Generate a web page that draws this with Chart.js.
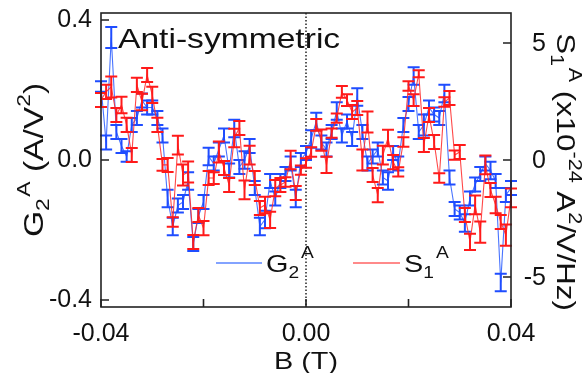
<!DOCTYPE html>
<html>
<head>
<meta charset="utf-8">
<script src="https://cdn.jsdelivr.net/npm/chart.js@4.4.0/dist/chart.umd.min.js"></script>
<style>
  html, body { margin: 0; padding: 0; background: #fff; }
  #wrap { width: 586px; height: 373px; }
</style>
</head>
<body>
<div id="wrap"><canvas id="noiseChart" width="586" height="373"></canvas></div>
<script>
// ── field sweep (T) ──────────────────────────────────────────────
const fieldT = [
  -0.040, -0.039, -0.038, -0.037, -0.036, -0.035, -0.034, -0.033, -0.032, -0.031,
  -0.030, -0.029, -0.028, -0.027, -0.026, -0.025, -0.024, -0.023, -0.022, -0.021,
  -0.020, -0.019, -0.018, -0.017, -0.016, -0.015, -0.014, -0.013, -0.012, -0.011,
  -0.010, -0.009, -0.008, -0.007, -0.006, -0.005, -0.004, -0.003, -0.002, -0.001,
   0.000,
   0.001,  0.002,  0.003,  0.004,  0.005,  0.006,  0.007,  0.008,  0.009,  0.010,
   0.011,  0.012,  0.013,  0.014,  0.015,  0.016,  0.017,  0.018,  0.019,  0.020,
   0.021,  0.022,  0.023,  0.024,  0.025,  0.026,  0.027,  0.028,  0.029,  0.030,
   0.031,  0.032,  0.033,  0.034,  0.035,  0.036,  0.037,  0.038,  0.039,  0.040
];

// anti-symmetric second-order conductance G2^A (A/V^2)
const g2Anti = [
   0.21,  0.05,  0.35,  0.08,  0.04,  0.01,  0.10,  0.12,  0.17,  0.15,
   0.15,  0.12,  0.07, -0.11, -0.19, -0.13, -0.12, -0.06, -0.24, -0.16,
  -0.12,  0.01, -0.01,  0.03,  0.07, -0.03,  0.09, -0.02,  0.00,  0.04,
  -0.08, -0.19, -0.17, -0.06, -0.11, -0.06, -0.04, -0.01, -0.11,  0.00,
   0.02,
   0.06,  0.11,  0.05,  0.03,  0.08,  0.14,  0.07,  0.11,  0.06,  0.18,
   0.08, -0.01,  0.01,  0.03, -0.05, -0.06,  0.02, -0.01,  0.10,  0.16,
   0.24,  0.08,  0.10,  0.15,  0.13,  0.12,  0.19, -0.05, -0.14, -0.15,
  -0.18, -0.11, -0.07, -0.04, -0.01, -0.03, -0.06, -0.35, -0.10, -0.08
];
const g2Err = [
  0.015, 0.020, 0.030, 0.020, 0.020, 0.015, 0.020, 0.020, 0.020, 0.020,
  0.020, 0.020, 0.020, 0.025, 0.025, 0.020, 0.020, 0.025, 0.020, 0.020,
  0.020, 0.025, 0.020, 0.020, 0.020, 0.020, 0.025, 0.020, 0.025, 0.020,
  0.020, 0.025, 0.025, 0.020, 0.020, 0.020, 0.020, 0.020, 0.025, 0.020,
  0.020,
  0.025, 0.025, 0.020, 0.020, 0.020, 0.025, 0.020, 0.020, 0.020, 0.025,
  0.020, 0.020, 0.020, 0.020, 0.020, 0.025, 0.020, 0.020, 0.020, 0.020,
  0.025, 0.020, 0.030, 0.020, 0.020, 0.020, 0.025, 0.020, 0.020, 0.020,
  0.025, 0.020, 0.020, 0.020, 0.020, 0.025, 0.020, 0.025, 0.020, 0.020
];

// anti-symmetric noise S1^A (x10^-24 A^2/V/Hz)
const s1Anti = [
   2.56,  2.91,  3.12,  1.92,  2.35,  1.50,  0.21,  3.21,  2.48,  3.63,
   2.78,  1.50, -0.21, -0.21, -2.65,  0.64, -0.64, -0.51, -3.50, -2.35,
  -2.91, -0.77, -0.77,  0.34, -0.34, -1.07,  0.94,  1.37, -1.28,  0.21,
  -0.77, -2.05, -1.92, -2.56, -1.20, -1.07, -0.94,  0.00, -1.41, -0.43,
  -0.13,
   0.34,  1.50,  0.85, -0.21,  1.15,  1.79,  2.91,  2.56,  2.05,  2.22,
   0.00,  1.62, -0.64, -1.50,  0.21,  0.94, -0.09, -0.51,  0.77,  3.16,
   2.56,  3.68,  0.64,  1.92,  0.77, -0.77,  2.48,  2.65,  0.21,  0.34,
  -2.35, -3.50, -1.92, -3.08, -0.21, -1.28, -1.92, -2.65, -3.21, -1.62
];
const s1Err = [
  0.30, 0.30, 0.45, 0.30, 0.35, 0.30, 0.30, 0.30, 0.35, 0.30,
  0.35, 0.30, 0.25, 0.30, 0.20, 0.40, 0.45, 0.45, 0.30, 0.30,
  0.30, 0.30, 0.25, 0.45, 0.30, 0.30, 0.40, 0.30, 0.40, 0.40,
  0.30, 0.30, 0.35, 0.35, 0.35, 0.30, 0.20, 0.40, 0.30, 0.20,
  0.20,
  0.20, 0.25, 0.45, 0.35, 0.20, 0.20, 0.25, 0.25, 0.30, 0.30,
  0.45, 0.45, 0.30, 0.30, 0.40, 0.35, 0.30, 0.20, 0.20, 0.20,
  0.25, 0.15, 0.30, 0.30, 0.30, 0.20, 0.20, 0.30, 0.20, 0.30,
  0.30, 0.35, 0.40, 0.45, 0.40, 0.30, 0.35, 0.30, 0.45, 0.40
];

// ── axis ticks ───────────────────────────────────────────────────
const xTicks = [-0.04, -0.02, 0, 0.02, 0.04];
const xTickText = ["-0.04", "", "0.00", "", "0.04"];
const gTicks = [-0.4, 0, 0.4];
const gTickText = ["-0.4", "0.0", "0.4"];
const sTicks = [-5, 0, 5];
const sTickText = ["-5", "0", "5"];

const FONT = "'Liberation Sans', Arial, sans-serif";
const BLUE = "#1f4dff";
const RED = "#ff1a1a";
const CAP = 6;          // half width of the error bar caps
const TICK_LEN = 8;     // inward tick marks
const STRETCH = 1.2;    // labels in this figure are set a little wide

// draw a run of text pieces [text, size, rise] one after the other
function richText(ctx, parts, x, y, rot, align) {
  ctx.save();
  ctx.translate(x, y);
  ctx.rotate(rot);
  ctx.scale(STRETCH, 1);
  ctx.fillStyle = "#111";
  ctx.textBaseline = "alphabetic";
  ctx.textAlign = "left";
  let total = 0;
  parts.forEach(([t, s]) => { ctx.font = `${s}px ${FONT}`; total += ctx.measureText(t).width; });
  let cx = align === "center" ? -total / 2 : align === "right" ? -total : 0;
  parts.forEach(([t, s, rise]) => {
    ctx.font = `${s}px ${FONT}`;
    ctx.fillText(t, cx, -rise);
    cx += ctx.measureText(t).width;
  });
  ctx.restore();
}

const errorBars = {
  id: "errorBars",
  afterDatasetDraw(chart, args) {
    const ds = chart.data.datasets[args.index];
    if (!ds.errors) return;
    const xs = chart.scales.x;
    const ys = chart.scales[ds.yAxisID];
    const ctx = chart.ctx;
    ctx.save();
    ctx.strokeStyle = ds.barColor;
    ctx.lineWidth = 2;
    ds.data.forEach((p, i) => {
      const px = xs.getPixelForValue(p.x);
      const top = ys.getPixelForValue(p.y + ds.errors[i]);
      const bot = ys.getPixelForValue(p.y - ds.errors[i]);
      ctx.beginPath();
      ctx.moveTo(px, top); ctx.lineTo(px, bot);
      ctx.moveTo(px - CAP, top); ctx.lineTo(px + CAP, top);
      ctx.moveTo(px - CAP, bot); ctx.lineTo(px + CAP, bot);
      ctx.stroke();
    });
    ctx.restore();
  }
};

const frame = {
  id: "frame",
  beforeDatasetsDraw(chart) {
    // dotted line at zero field
    const { ctx, chartArea: a, scales } = chart;
    const x0 = scales.x.getPixelForValue(0);
    ctx.save();
    ctx.strokeStyle = "#222";
    ctx.lineWidth = 1.5;
    ctx.setLineDash([1.5, 2]);
    ctx.beginPath();
    ctx.moveTo(x0, a.top);
    ctx.lineTo(x0, a.bottom);
    ctx.stroke();
    ctx.restore();
  },
  afterDatasetsDraw(chart) {
    const { ctx, chartArea: a, scales } = chart;
    ctx.save();
    ctx.strokeStyle = "#222";
    ctx.lineWidth = 1.6;
    ctx.strokeRect(a.left, a.top, a.right - a.left, a.bottom - a.top);
    ctx.beginPath();
    scales.x.ticks.forEach(t => {
      const px = scales.x.getPixelForValue(t.value);
      ctx.moveTo(px, a.bottom); ctx.lineTo(px, a.bottom - TICK_LEN);
    });
    scales.yG.ticks.forEach(t => {
      const py = scales.yG.getPixelForValue(t.value);
      ctx.moveTo(a.left, py); ctx.lineTo(a.left + TICK_LEN, py);
    });
    scales.yS.ticks.forEach(t => {
      const py = scales.yS.getPixelForValue(t.value);
      ctx.moveTo(a.right, py); ctx.lineTo(a.right - TICK_LEN, py);
    });
    ctx.stroke();
    ctx.restore();

    // right-hand labels, right aligned as in the original figure
    ctx.save();
    ctx.fillStyle = "#111";
    ctx.font = `25px ${FONT}`;
    ctx.textAlign = "right";
    ctx.textBaseline = "middle";
    scales.yS.ticks.forEach((t, i) => {
      ctx.fillText(sTickText[i], 546, scales.yS.getPixelForValue(t.value) + 1);
    });
    ctx.restore();
  },
  afterDraw(chart) {
    const { ctx, chartArea: a } = chart;
    const midY = (a.top + a.bottom) / 2;

    richText(ctx, [["Anti-symmetric", 28, 0]], 118, 48, 0, "left");

    // axis titles
    richText(ctx, [["B (T)", 24, 0]], (a.left + a.right) / 2, 369, 0, "center");
    richText(ctx, [["G", 28, 0], ["2", 19, -6], [" ", 5, 0], ["A", 19, 13], [" (A/V", 28, 0], ["2", 19, 13], [")", 28, 0]],
      43, midY, -Math.PI / 2, "center");
    richText(ctx, [["S", 26, 0], ["1", 18, -6], [" ", 5, 0], ["A", 18, 12], [" (x10", 26, 0], ["-24", 18, 12],
      [" A", 26, 0], ["2", 18, 12], ["/V/Hz)", 26, 0]],
      557, 172, Math.PI / 2, "center");

    // legend
    ctx.save();
    ctx.lineWidth = 1.5;
    ctx.strokeStyle = "rgba(60,110,255,0.85)";
    ctx.beginPath(); ctx.moveTo(216, 263); ctx.lineTo(262, 263); ctx.stroke();
    ctx.strokeStyle = "rgba(255,70,70,0.85)";
    ctx.beginPath(); ctx.moveTo(353, 263); ctx.lineTo(400, 263); ctx.stroke();
    ctx.restore();
    richText(ctx, [["G", 24, 0], ["2", 16, -6], [" ", 6, 0], ["A", 16, 14]], 266, 272, 0, "left");
    richText(ctx, [["S", 24, 0], ["1", 16, -6], [" ", 6, 0], ["A", 16, 14]], 404, 272, 0, "left");
  }
};

new Chart(document.getElementById("noiseChart"), {
  type: "line",
  data: {
    datasets: [
      {
        label: "S1A",
        data: fieldT.map((b, i) => ({ x: b, y: s1Anti[i] })),
        errors: s1Err,
        barColor: RED,
        yAxisID: "yS",
        borderColor: "rgba(255,40,40,0.85)",
        borderWidth: 1.1,
        pointRadius: 0,
        tension: 0
      },
      {
        label: "G2A",
        data: fieldT.map((b, i) => ({ x: b, y: g2Anti[i] })),
        errors: g2Err,
        barColor: BLUE,
        yAxisID: "yG",
        borderColor: "rgba(40,90,255,0.85)",
        borderWidth: 1.1,
        pointRadius: 0,
        tension: 0
      }
    ]
  },
  options: {
    responsive: false,
    devicePixelRatio: 1,
    animation: false,
    layout: { padding: { top: 13, left: 0, right: 0, bottom: 0 } },
    plugins: { legend: { display: false }, tooltip: { enabled: false } },
    scales: {
      x: {
        type: "linear",
        min: -0.04,
        max: 0.04,
        grid: { display: false, drawTicks: false },
        border: { display: false },
        afterBuildTicks: s => { s.ticks = xTicks.map(v => ({ value: v })); },
        afterFit: s => { s.height = 66; s.paddingLeft = 0; s.paddingRight = 0; },
        ticks: {
          autoSkip: false,
          maxRotation: 0,
          padding: 12,
          color: "#111",
          font: { family: FONT, size: 25 },
          callback: (v, i) => xTickText[i]
        }
      },
      yG: {
        position: "left",
        min: -0.42,
        max: 0.42,
        grid: { display: false, drawTicks: false },
        border: { display: false },
        afterBuildTicks: s => { s.ticks = gTicks.map(v => ({ value: v })); },
        afterFit: s => { s.width = 101; s.paddingTop = 0; s.paddingBottom = 0; },
        ticks: {
          padding: 9,
          color: "#111",
          font: { family: FONT, size: 25 },
          callback: (v, i) => gTickText[i]
        }
      },
      yS: {
        position: "right",
        min: -6.28,
        max: 6.28,
        grid: { display: false, drawTicks: false },
        border: { display: false },
        afterBuildTicks: s => { s.ticks = sTicks.map(v => ({ value: v })); },
        afterFit: s => { s.width = 75; s.paddingTop = 0; s.paddingBottom = 0; },
        ticks: { display: false }
      }
    }
  },
  plugins: [errorBars, frame]
});
</script>
</body>
</html>
